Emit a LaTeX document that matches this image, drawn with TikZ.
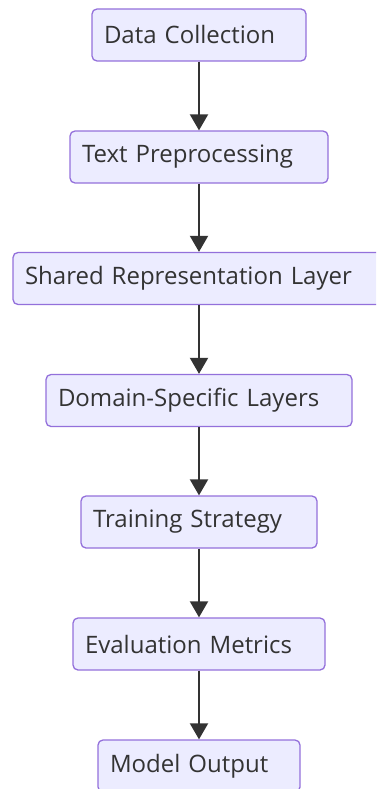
\documentclass[tikz,border=0pt]{standalone}
\usepackage{fontspec}
\setmainfont{Open Sans}
\usetikzlibrary{arrows.meta}
\definecolor{boxfill}{HTML}{ECECFF}
\definecolor{boxline}{HTML}{9370DB}
\definecolor{ink}{HTML}{333333}
\tikzset{
  stepbox/.style={draw=boxline, fill=boxfill, line width=1.3pt, rounded corners=5pt,
    minimum height=52pt, inner xsep=12pt, inner ysep=0pt, align=left,
    text=ink, font=\fontsize{24}{28}\selectfont, text width=#1-24pt},
  flow/.style={draw=ink, line width=2pt, -{Triangle[width=18pt,length=16pt]}}
}
\begin{document}
\begin{tikzpicture}[x=1pt,y=-1pt]
\useasboundingbox (0,0) rectangle (376,789);
\clip (0,0) rectangle (376,789);
\node[stepbox=214pt] (a) at (199,35) {Data Collection};
\node[stepbox=258pt] (b) at (199,157) {Text Preprocessing};
\node[stepbox=372pt] (c) at (199,278.5) {Shared Representation Layer};
\node[stepbox=306pt] (d) at (199,400.5) {Domain-Specific Layers};
\node[stepbox=236pt] (e) at (199,522) {Training Strategy};
\node[stepbox=252pt] (f) at (199,644) {Evaluation Metrics};
\node[stepbox=202pt] (g) at (199,766) {Model Output};
\draw[flow] (a) -- (b);
\draw[flow] (b) -- (c);
\draw[flow] (c) -- (d);
\draw[flow] (d) -- (e);
\draw[flow] (e) -- (f);
\draw[flow] (f) -- (g);
\end{tikzpicture}
\end{document}
